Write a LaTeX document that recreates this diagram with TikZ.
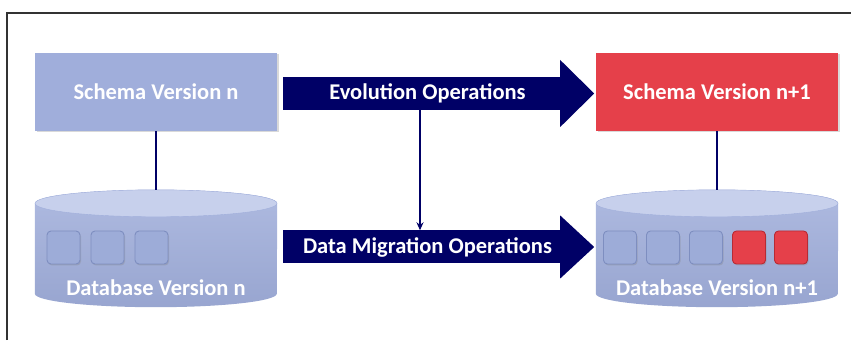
\documentclass[tikz,border=0pt]{standalone}
\usepackage{fontspec}
\setmainfont{Carlito}
\usetikzlibrary{arrows.meta,shadows}
\definecolor{boxblue}{HTML}{A0AEDB}
\definecolor{topblue}{HTML}{C7D0EC}
\definecolor{boxred}{HTML}{E5404A}
\definecolor{navy}{HTML}{000066}
\definecolor{cellblue}{HTML}{9DACD8}
\definecolor{cellline}{HTML}{7E8EC0}
\definecolor{cellredline}{HTML}{B82A34}
\begin{document}
\begin{tikzpicture}[x=1pt,y=1pt,
  lbl/.style={text=white, font=\bfseries\fontsize{22.5}{24}\selectfont},
  schema/.style={rectangle, minimum width=242pt, minimum height=78pt, lbl, drop shadow={shadow xshift=1.5pt, shadow yshift=-1.5pt, opacity=0.3}},
  db/.style={rectangle, minimum width=242pt, minimum height=117pt},
  cell/.style={rectangle, rounded corners=4pt, minimum size=33pt, fill=cellblue, draw=cellline, line width=0.9pt, drop shadow={shadow xshift=1pt, shadow yshift=-1.5pt, opacity=0.3}},
  redcell/.style={cell, fill=boxred, draw=cellredline},
  ops/.style={rectangle, fill=navy, minimum width=289pt, minimum height=33pt, lbl}]
\useasboundingbox (0,0) rectangle (851,340);
\draw[line width=1.3pt, black!80] (7,0) -- (7,327) -- (851,327);
\node[schema, fill=boxblue] (sn) at (156,248) {Schema Version n};
\node[schema, fill=boxred] (sn1) at (717,248) {Schema Version n+1};
\node[db] (dbn) at (156,91.5) {};
\node[db] (dbn1) at (717,91.5) {};
\shade[top color=boxblue!85!white, bottom color=boxblue!95!black] ([yshift=-13.5pt]dbn.north west) -- ([yshift=13.5pt]dbn.south west) arc[start angle=180, end angle=360, x radius=121pt, y radius=13.5pt] -- ([yshift=-13.5pt]dbn.north east) arc[start angle=0, end angle=180, x radius=121pt, y radius=13.5pt] -- cycle;
\fill[topblue, draw=boxblue] ([yshift=-13.5pt]dbn.north) ellipse[x radius=121pt, y radius=13.5pt];
\shade[top color=boxblue!85!white, bottom color=boxblue!95!black] ([yshift=-13.5pt]dbn1.north west) -- ([yshift=13.5pt]dbn1.south west) arc[start angle=180, end angle=360, x radius=121pt, y radius=13.5pt] -- ([yshift=-13.5pt]dbn1.north east) arc[start angle=0, end angle=180, x radius=121pt, y radius=13.5pt] -- cycle;
\fill[topblue, draw=boxblue] ([yshift=-13.5pt]dbn1.north) ellipse[x radius=121pt, y radius=13.5pt];
\node[cell] (c1) at (63.5,92.5) {};
\node[cell] (c2) at (107.5,92.5) {};
\node[cell] (c3) at (151.5,92.5) {};
\node[cell] (d1) at (620,92.5) {};
\node[cell] (d2) at (663,92.5) {};
\node[cell] (d3) at (706,92.5) {};
\node[redcell] (d4) at (749,92.5) {};
\node[redcell] (d5) at (791,92.5) {};
\node[lbl] (dbnl) at (156,52) {Database Version n};
\node[lbl] (dbn1l) at (717,52) {Database Version n+1};
\draw[navy, line width=2.4pt] (sn.south) -- (dbn.north);
\draw[navy, line width=2.4pt] (sn1.south) -- (dbn1.north);
\node[ops] (evo) at (427.5,246.5) {Evolution Operations};
\fill[navy] ([shift={(-12,33.5)}]evo.east) -- ++(34,-33.5) -- ++(-34,-33.5) -- cycle;
\node[ops] (mig) at (427.5,93) {Data Migration Operations};
\fill[navy] ([shift={(-12,31.5)}]mig.east) -- ++(34,-31.5) -- ++(-34,-31.5) -- cycle;
\draw[navy, line width=2pt, -{Stealth[length=8pt, width=7pt]}] ([xshift=-7.5pt]evo.south) -- ([xshift=-7.5pt]mig.north);
\end{tikzpicture}
\end{document}
